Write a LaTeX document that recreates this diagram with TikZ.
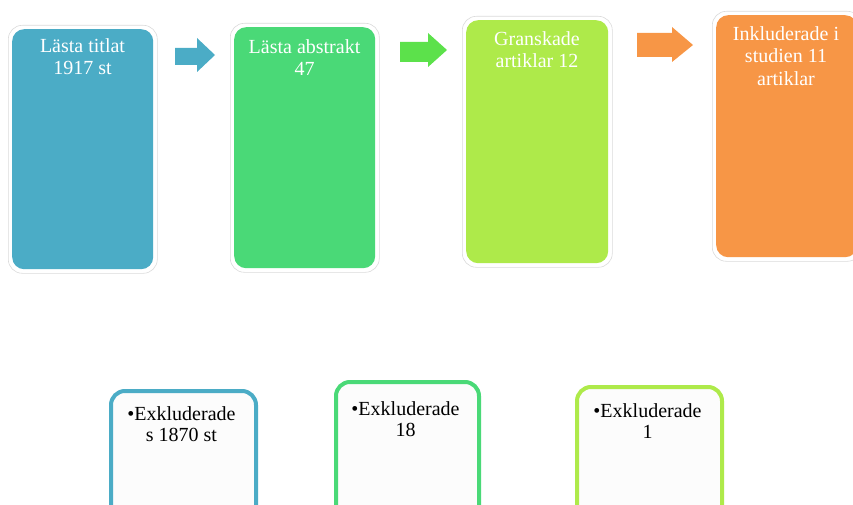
\documentclass[tikz,border=0pt]{standalone}
\usepackage{fontspec}
\setmainfont{Liberation Serif}
\definecolor{cblue}{HTML}{4BACC6}
\definecolor{cgreen}{HTML}{4AD977}
\definecolor{clime}{HTML}{AEEA4A}
\definecolor{corange}{HTML}{F79646}
\definecolor{carrowg}{HTML}{5CE14B}
\tikzset{
  frame/.style={draw=black!14, fill=white, rounded corners=14pt, line width=0.6pt, anchor=north west, inner sep=0pt},
  topbox/.style={rounded corners=12pt, anchor=north west, inner sep=0pt},
  toptext/.style={text=white, font=\fontsize{20}{22.5}\selectfont, align=center, anchor=north, inner sep=0pt},
  exbox/.style={draw, line width=4pt, fill=black!1, rounded corners=14pt, anchor=north west, inner sep=0pt},
  extext/.style={font=\fontsize{20}{21.5}\selectfont, align=center, anchor=north, inner sep=0pt},
}
\begin{document}
\begin{tikzpicture}[x=1pt,y=-1pt]
\useasboundingbox (0,0) rectangle (853,505);
\clip (0,0) rectangle (853,505);
% top frames
\node[frame, minimum width=149pt, minimum height=248pt] (f1) at (8,25) {};
\node[frame, minimum width=149pt, minimum height=249pt] (f2) at (230,23) {};
\node[frame, minimum width=150pt, minimum height=251pt] (f3) at (462,16) {};
\node[frame, minimum width=149pt, minimum height=250pt] (f4) at (712,11) {};
% top boxes
\node[topbox, fill=cblue, minimum width=141pt, minimum height=240pt] (b1) at (12,29) {};
\node[topbox, fill=cgreen, minimum width=141pt, minimum height=241pt] (b2) at (234,27) {};
\node[topbox, fill=clime, minimum width=142pt, minimum height=243pt] (b3) at (466,20) {};
\node[topbox, fill=corange, minimum width=141pt, minimum height=242pt] (b4) at (716,15) {};
% texts
\node[toptext] (t1) at (82.5,38) {Lästa titlat\\1917 st};
\node[toptext] (t2) at (304.5,39) {Lästa abstrakt\\47};
\node[toptext] (t3) at (537,31) {Granskade\\artiklar 12};
\node[toptext] (t4) at (786,26) {Inkluderade i\\studien 11\\artiklar};
% arrows
\fill[cblue] (175,48) -- (197,48) -- (197,38) -- (215,55) -- (197,72) -- (197,65) -- (175,65) -- cycle;
\fill[carrowg] (400,42) -- (428,42) -- (428,33) -- (447,50) -- (428,67) -- (428,62) -- (400,62) -- cycle;
\fill[corange] (637,33) -- (672,33) -- (672,27) -- (693,45) -- (672,62) -- (672,57) -- (637,57) -- cycle;
% bottom boxes
\node[exbox, draw=cblue, minimum width=145pt, minimum height=140pt] (e1) at (109,389) {};
\node[exbox, draw=cgreen, minimum width=143pt, minimum height=140pt] (e2) at (334,380) {};
\node[exbox, draw=clime, minimum width=145pt, minimum height=140pt] (e3) at (575,385) {};
\node[extext] (x1) at (181.5,406) {•Exkluderade\\s 1870 st};
\node[extext] (x2) at (405.5,401) {•Exkluderade\\18};
\node[extext] (x3) at (647.5,403) {•Exkluderade\\1};
\end{tikzpicture}
\end{document}
